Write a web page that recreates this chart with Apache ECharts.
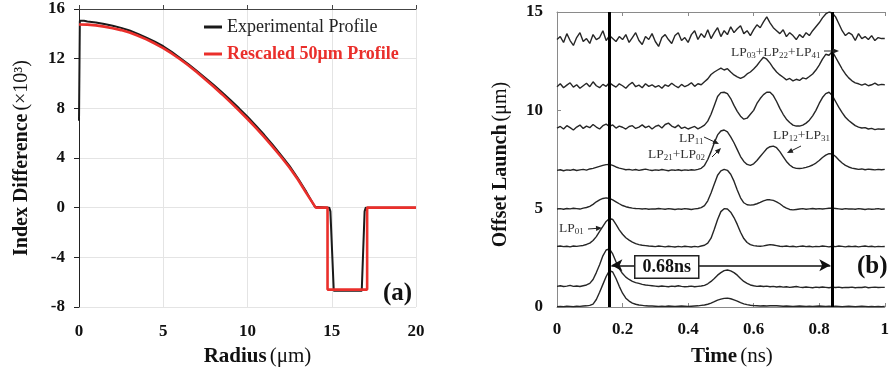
<!DOCTYPE html>
<html><head><meta charset="utf-8">
<script src="https://cdn.jsdelivr.net/npm/echarts@6/dist/echarts.min.js"></script>
<style>html,body{margin:0;padding:0;background:#fff}#c{width:892px;height:372px}</style>
</head><body><div id="c"></div>
<script>
// ---------- Panel (a) data ----------
const radiusTicks = [0, 5, 10, 15, 20];
const indexTicks = [-8, -4, 0, 4, 8, 12, 16];
const radiusExp = [0,0.05,0.15,0.3,0.5,1,1.5,2,2.5,3,3.5,4,4.5,5,5.5,6,6.5,7,7.5,8,8.5,9,9.5,10,10.5,11,11.5,12,12.5,13,13.5,14,14.85,14.92,15.12,16.78,16.95,17.02,20];
const diffExp = [7.0,15.05,15.15,15.05,15.0,14.92,14.8,14.65,14.48,14.27,14.0,13.7,13.37,13.0,12.55,12.05,11.55,11.0,10.45,9.88,9.28,8.65,8.0,7.32,6.6,5.85,5.05,4.22,3.35,2.35,1.25,0.08,0,-0.3,-6.7,-6.7,-0.3,0,0];
const radiusRes = [0,0.5,1,1.5,2,2.5,3,3.5,4,4.5,5,5.5,6,6.5,7,7.5,8,8.5,9,9.5,10,10.5,11,11.5,12,12.5,13,13.5,14.05,14.75,14.75,17.1,17.1,20];
const diffRes = [14.75,14.74,14.68,14.58,14.45,14.3,14.1,13.85,13.55,13.22,12.85,12.42,11.95,11.45,10.9,10.33,9.74,9.12,8.48,7.82,7.14,6.42,5.68,4.9,4.08,3.22,2.25,1.15,0,0,-6.6,-6.6,0,0];

// ---------- Panel (b) data ----------
const timeNs = [0,0.01,0.02,0.03,0.04,0.05,0.06,0.07,0.08,0.09,
0.10,0.11,0.12,0.13,0.14,0.15,0.16,0.17,0.18,0.19,
0.20,0.21,0.22,0.23,0.24,0.25,0.26,0.27,0.28,0.29,
0.30,0.31,0.32,0.33,0.34,0.35,0.36,0.37,0.38,0.39,
0.40,0.41,0.42,0.43,0.44,0.45,0.46,0.47,0.48,0.49,
0.50,0.51,0.52,0.53,0.54,0.55,0.56,0.57,0.58,0.59,
0.60,0.61,0.62,0.63,0.64,0.65,0.66,0.67,0.68,0.69,
0.70,0.71,0.72,0.73,0.74,0.75,0.76,0.77,0.78,0.79,
0.80,0.81,0.82,0.83,0.84,0.85,0.86,0.87,0.88,0.89,
0.90,0.91,0.92,0.93,0.94,0.95,0.96,0.97,0.98,0.99,1.00];
const trace1 = [0.02,0.03,0.02,0.04,0.03,0.02,0.04,0.03,0.05,0.06,
0.08,0.15,0.38,0.75,1.15,1.55,1.85,1.78,1.45,1.05,
0.70,0.45,0.30,0.20,0.14,0.10,0.08,0.06,0.05,0.05,
0.04,0.03,0.04,0.03,0.05,0.04,0.03,0.04,0.05,0.04,
0.03,0.04,0.05,0.06,0.08,0.10,0.14,0.20,0.27,0.35,
0.40,0.44,0.45,0.42,0.36,0.30,0.22,0.16,0.12,0.09,
0.07,0.06,0.05,0.06,0.05,0.06,0.07,0.06,0.05,0.04,
0.05,0.04,0.03,0.04,0.05,0.04,0.03,0.04,0.03,0.04,
0.05,0.04,0.03,0.04,0.03,0.04,0.03,0.02,0.03,0.04,
0.03,0.02,0.03,0.04,0.03,0.02,0.03,0.02,0.03,0.02,0.03];
const trace2 = [1.05,1.08,1.04,1.06,1.10,1.05,1.07,1.04,1.08,1.12,
1.20,1.40,1.75,2.15,2.60,2.90,2.95,2.70,2.30,1.95,
1.70,1.52,1.40,1.30,1.24,1.20,1.15,1.12,1.10,1.08,
1.06,1.04,1.07,1.05,1.03,1.06,1.04,1.08,1.05,1.03,
1.04,1.06,1.03,1.05,1.07,1.10,1.18,1.30,1.45,1.62,
1.75,1.85,1.88,1.84,1.75,1.62,1.45,1.30,1.20,1.12,
1.08,1.05,1.07,1.04,1.06,1.03,1.05,1.02,1.04,1.01,
1.03,1.00,1.02,1.04,1.01,0.99,1.02,1.00,0.98,1.01,
0.99,1.02,1.00,0.98,1.01,0.99,1.01,0.98,1.00,0.99,
1.01,0.98,1.00,0.99,1.02,0.98,1.00,1.01,0.99,1.00,1.00];
const trace3 = [3.08,3.10,3.07,3.09,3.06,3.10,3.08,3.11,3.13,3.18,
3.25,3.38,3.58,3.85,4.10,4.35,4.50,4.45,4.20,3.92,
3.70,3.52,3.40,3.30,3.22,3.17,3.14,3.12,3.10,3.09,
3.07,3.10,3.08,3.06,3.09,3.07,3.05,3.08,3.06,3.09,
3.07,3.05,3.08,3.06,3.10,3.14,3.25,3.50,3.95,4.45,
4.85,5.00,4.98,4.82,4.55,4.20,3.80,3.48,3.28,3.17,
3.12,3.10,3.09,3.11,3.14,3.17,3.15,3.12,3.09,3.08,
3.10,3.07,3.09,3.06,3.08,3.10,3.07,3.09,3.06,3.08,
3.07,3.10,3.08,3.06,3.09,3.07,3.10,3.08,3.06,3.09,
3.07,3.09,3.06,3.08,3.10,3.07,3.09,3.06,3.08,3.07,3.08];
const trace4 = [4.98,5.00,4.97,5.01,4.99,5.02,5.00,4.98,5.03,5.06,
5.12,5.22,5.35,5.45,5.52,5.55,5.52,5.45,5.35,5.25,
5.16,5.10,5.06,5.03,5.01,5.00,4.98,5.00,4.97,4.99,
4.98,5.01,4.99,4.97,5.00,4.98,4.96,4.99,4.97,5.00,
4.98,4.96,4.99,5.01,5.05,5.15,5.40,5.80,6.25,6.70,
6.92,7.00,6.95,6.75,6.40,5.95,5.55,5.30,5.20,5.18,
5.20,5.25,5.32,5.40,5.45,5.45,5.42,5.35,5.25,5.12,
5.03,4.96,4.94,4.96,4.98,5.00,4.97,4.99,5.01,4.98,
5.00,4.98,5.00,5.02,5.03,5.01,4.99,4.97,5.00,4.98,
4.99,4.97,5.00,4.98,4.96,4.99,4.97,4.98,5.00,4.97,4.98];
const trace5 = [6.95,6.98,6.93,6.97,6.95,6.99,6.94,6.97,7.00,6.96,
7.02,7.05,7.10,7.15,7.20,7.24,7.25,7.20,7.12,7.06,
7.02,6.98,7.00,6.96,6.99,6.95,6.98,7.01,6.97,6.94,
6.97,6.95,6.99,6.96,6.93,6.97,6.95,6.98,6.94,6.97,
6.95,6.98,6.96,7.00,7.05,7.20,7.50,7.90,8.35,8.75,
8.95,9.00,8.90,8.65,8.35,8.00,7.65,7.40,7.25,7.20,
7.28,7.45,7.65,7.85,8.05,8.15,8.18,8.10,7.90,7.65,
7.40,7.22,7.10,7.05,7.04,7.06,7.10,7.15,7.22,7.32,
7.45,7.60,7.72,7.80,7.78,7.65,7.48,7.32,7.20,7.12,
7.06,7.03,7.00,7.02,6.98,7.01,6.99,6.97,7.00,6.98,7.00];
const trace6 = [9.10,9.18,9.05,9.22,9.12,9.00,9.15,9.25,9.08,9.20,
9.12,9.28,9.15,9.05,9.22,9.30,9.18,9.26,9.10,9.20,
9.14,9.05,9.18,9.22,9.08,9.15,9.26,9.12,9.20,9.05,
9.18,9.24,9.10,9.28,9.35,9.20,9.12,9.25,9.08,9.15,
9.05,9.12,9.18,9.06,9.15,9.25,9.45,9.80,10.25,10.70,
10.90,10.92,10.85,10.60,10.25,9.95,9.70,9.55,9.60,9.80,
10.00,10.35,10.60,10.80,10.92,10.92,10.75,10.45,10.10,9.80,
9.55,9.38,9.25,9.20,9.20,9.25,9.35,9.50,9.72,10.00,
10.35,10.65,10.85,10.92,10.75,10.45,10.15,9.88,9.65,9.48,
9.35,9.22,9.15,9.10,9.12,9.05,9.08,9.02,9.06,9.04,9.05];
const trace7 = [11.20,11.35,11.15,11.28,11.40,11.18,11.30,11.12,11.25,11.38,
11.20,11.45,11.25,11.15,11.32,11.22,11.40,11.28,11.18,11.35,
11.25,11.12,11.30,11.42,11.20,11.28,11.15,11.35,11.22,11.30,
11.18,11.26,11.12,11.30,11.22,11.38,11.25,11.15,11.32,11.20,
11.28,11.40,11.22,11.35,11.30,11.45,11.60,11.82,11.95,12.05,
12.15,12.05,12.12,11.95,11.80,11.70,11.62,11.70,11.85,11.95,
12.10,12.28,12.50,12.70,12.60,12.40,12.15,11.95,11.80,11.68,
11.55,11.62,11.50,11.58,11.52,11.65,11.60,11.72,11.85,12.05,
12.30,12.60,12.85,12.80,13.00,12.70,12.40,12.10,11.85,11.65,
11.50,11.40,11.35,11.28,11.35,11.25,11.30,11.38,11.28,11.32,11.30];
const trace8 = [13.60,13.75,13.45,13.90,13.55,13.30,13.70,13.95,13.50,13.65,
13.40,13.85,13.60,13.70,14.05,13.55,13.80,13.65,13.50,13.75,
13.60,13.85,13.45,13.70,13.95,13.55,13.35,13.75,13.60,13.90,
13.50,13.25,13.70,13.85,13.60,13.40,13.80,13.95,13.55,13.70,
13.45,13.85,14.05,13.60,13.90,13.70,14.10,13.65,13.95,14.20,
13.75,14.05,13.85,14.25,13.95,14.15,14.30,13.90,14.05,13.80,
14.10,14.35,14.20,14.50,14.75,14.45,14.20,14.05,13.90,14.10,
13.75,13.95,13.80,13.60,13.85,13.70,13.95,13.80,14.05,14.25,
14.45,14.70,14.90,15.00,14.95,14.75,14.40,14.05,13.80,13.95,
13.85,13.55,13.90,13.65,13.75,13.60,13.80,13.55,13.70,13.65,13.65];
const traces = [trace1, trace2, trace3, trace4, trace5, trace6, trace7, trace8];
const markerTimes = [0.16, 0.84];
const spanArrow = { from: 0.166, to: 0.834, level: 2.12 };

// ---------- chart ----------
const FONT = 'Liberation Serif';
const RED = '#ea2f2b';
const zip = (xs, ys) => xs.map((x, i) => [x, ys[i]]);
const chart = echarts.init(document.getElementById('c'), null, { renderer: 'canvas' });

function arrow(x1, y1, x2, y2) {
  const a = Math.atan2(y2 - y1, x2 - x1), h = 6, w = 2.6;
  const c = Math.cos(a), s = Math.sin(a);
  return [
    { type: 'line', shape: { x1, y1, x2: x2 - c * 3, y2: y2 - s * 3 }, style: { stroke: '#222', lineWidth: 1 }, z: 50 },
    { type: 'polygon', shape: { points: [[x2, y2], [x2 - h * c + w * s, y2 - h * s - w * c], [x2 - h * c - w * s, y2 - h * s + w * c]] }, style: { fill: '#222' }, z: 50 }
  ];
}
const subRich = {
  m: { fontFamily: FONT, fontSize: 13.5, lineHeight: 17, fill: '#333', verticalAlign: 'middle' },
  s: { fontFamily: FONT, fontSize: 9, fill: '#333', verticalAlign: 'bottom' }
};
function label(x, y, txt) {
  return { type: 'text', left: x, top: y - 9, z: 50, style: { text: txt, rich: subRich, fill: '#333' } };
}

const traceSeries = traces.map((tr, k) => ({
  type: 'line', name: 'launch' + k, xAxisIndex: 2, yAxisIndex: 1,
  data: zip(timeNs, tr), showSymbol: false, symbol: 'none', silent: true,
  lineStyle: { color: '#262626', width: 1.4 }, z: 3
}));
traceSeries[0].markLine = {
  silent: true, symbol: 'none', label: { show: false },
  lineStyle: { color: '#000', width: 3, type: 'solid' },
  data: markerTimes.map(t => [{ coord: [t, 0] }, { coord: [t, 15] }])
};
traceSeries[1].markLine = {
  silent: true, symbol: ['arrow', 'arrow'], symbolSize: [9, 11], label: { show: false },
  lineStyle: { color: '#111', width: 1.5, type: 'solid' },
  data: [[{ coord: [spanArrow.from, spanArrow.level] }, { coord: [spanArrow.to, spanArrow.level] }]]
};

const boldN = { fontFamily: FONT, fontWeight: 'bold', fontSize: 21, color: '#111' };
const regN = { fontFamily: FONT, fontSize: 21, color: '#111' };
const option = {
  animation: false,
  backgroundColor: '#fff',
  textStyle: { fontFamily: FONT },
  grid: [
    { left: 79, top: 9, width: 337, height: 300 },
    { left: 557, top: 12, width: 333, height: 297 }
  ],
  legend: {
    orient: 'vertical', left: 199, top: 13, itemWidth: 18, itemHeight: 3, itemGap: 9, icon: 'rect',
    textStyle: { fontFamily: FONT, fontSize: 18, color: '#222' },
    data: [
      { name: 'Experimental Profile', textStyle: { color: '#222' } },
      { name: 'Rescaled 50μm Profile', textStyle: { color: RED, fontWeight: 'bold' } }
    ]
  },
  xAxis: [
    { gridIndex: 0, type: 'value', min: 0, max: 20, interval: 5,
      axisLine: { show: false }, axisTick: { show: false },
      axisLabel: { fontFamily: FONT, fontWeight: 'bold', fontSize: 17, color: '#111', margin: 16 },
      splitLine: { show: true, lineStyle: { color: '#e4e4e4' } },
      name: '{b|Radius} {n|(μm)}', nameLocation: 'middle', nameGap: 39,
      nameTextStyle: { padding: [0, 0, 0, 20], rich: { b: boldN, n: regN } } },
    { gridIndex: 0, type: 'value', min: 0, max: 20, interval: 5,
      axisLine: { show: true, onZero: true, lineStyle: { color: '#444', width: 1 } },
      axisTick: { show: true, length: 4, lineStyle: { color: '#444' } },
      axisLabel: { show: false }, splitLine: { show: false } },
    { gridIndex: 1, type: 'value', min: 0, max: 1, interval: 0.2,
      axisLine: { show: true, onZero: false, lineStyle: { color: '#8a8a8a', width: 1 } },
      axisTick: { show: true, inside: true, length: 4, lineStyle: { color: '#8a8a8a' } },
      axisLabel: { fontFamily: FONT, fontWeight: 'bold', fontSize: 17, color: '#111', margin: 14,
        formatter: v => (v === 0 || v === 1) ? String(v) : v.toFixed(1) },
      splitLine: { show: false },
      name: '{b|Time} {n|(ns)}', nameLocation: 'middle', nameGap: 39,
      nameTextStyle: { padding: [0, 0, 0, 22], rich: { b: boldN, n: regN } } },
    { gridIndex: 1, type: 'value', position: 'top', min: 0, max: 1, interval: 0.2,
      axisLine: { show: true, onZero: false, lineStyle: { color: '#8a8a8a', width: 1 } },
      axisTick: { show: true, inside: true, length: 4, lineStyle: { color: '#8a8a8a' } },
      axisLabel: { show: false }, splitLine: { show: false } }
  ],
  yAxis: [
    { gridIndex: 0, type: 'value', min: -8, max: 16, interval: 4,
      axisLine: { show: true, onZero: false, lineStyle: { color: '#222', width: 1 } },
      axisTick: { show: true, length: 5, lineStyle: { color: '#222' } },
      axisLabel: { fontFamily: FONT, fontWeight: 'bold', fontSize: 17, color: '#111', margin: 14 },
      splitLine: { show: true, lineStyle: { color: '#e4e4e4' } },
      name: '{b|Index Difference} {n|(×10³)}', nameLocation: 'middle', nameGap: 47,
      nameTextStyle: { rich: { b: Object.assign({}, boldN, { fontSize: 20 }), n: Object.assign({}, regN, { fontSize: 20 }) } } },
    { gridIndex: 1, type: 'value', min: 0, max: 15, interval: 5,
      axisLine: { show: true, onZero: false, lineStyle: { color: '#8a8a8a', width: 1 } },
      axisTick: { show: true, inside: true, length: 4, lineStyle: { color: '#8a8a8a' } },
      axisLabel: { fontFamily: FONT, fontWeight: 'bold', fontSize: 17, color: '#111', margin: 14 },
      splitLine: { show: false },
      name: '{b|Offset Launch} {n|(μm)}', nameLocation: 'middle', nameGap: 46,
      nameTextStyle: { padding: [0, 10, 0, 0], rich: { b: Object.assign({}, boldN, { fontSize: 20 }), n: Object.assign({}, regN, { fontSize: 20 }) } } }
  ],
  series: [
    { type: 'line', name: 'Experimental Profile', xAxisIndex: 0, yAxisIndex: 0, data: zip(radiusExp, diffExp),
      showSymbol: false, symbol: 'none', color: '#1a1a1a', lineStyle: { color: '#1a1a1a', width: 2 }, z: 3 },
    { type: 'line', name: 'Rescaled 50μm Profile', xAxisIndex: 0, yAxisIndex: 0, data: zip(radiusRes, diffRes),
      showSymbol: false, symbol: 'none', color: RED, lineStyle: { color: RED, width: 2.6 }, z: 4 }
  ].concat(traceSeries),
  graphic: [
    { type: 'text', left: 383, top: 281, z: 50, style: { text: '(a)', font: 'bold 25px "Liberation Serif"', fill: '#111' } },
    { type: 'text', left: 857, top: 254, z: 50, style: { text: '(b)', font: 'bold 25px "Liberation Serif"', fill: '#111' } },
    { type: 'text', left: 634, top: 255, z: 50, style: { text: '0.68ns', font: 'bold 18px "Liberation Serif"', fill: '#111',
        backgroundColor: '#fff', borderColor: '#222', borderWidth: 1.5, padding: [2, 7, 1, 7] } },
    label(559, 230, '{m|LP}{s|01}'),
    label(679, 140, '{m|LP}{s|11}'),
    label(648, 156, '{m|LP}{s|21}{m|+LP}{s|02}'),
    label(773, 137, '{m|LP}{s|12}{m|+LP}{s|31}'),
    label(731, 54, '{m|LP}{s|03}{m|+LP}{s|22}{m|+LP}{s|41}')
  ].concat(arrow(588, 229, 602, 228), arrow(704, 137, 719, 144), arrow(712, 157, 721, 148),
           arrow(801, 146, 787, 153), arrow(824, 51, 839, 51))
};
chart.setOption(option);
</script></body></html>
